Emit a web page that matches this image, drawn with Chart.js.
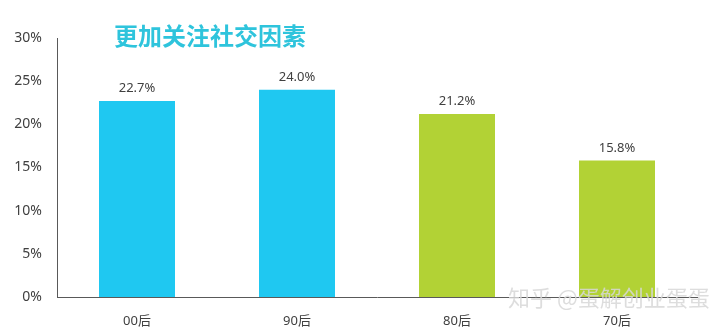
<!DOCTYPE html>
<html>
<head>
<meta charset="utf-8">
<script src="https://cdn.jsdelivr.net/npm/chart.js@4.4.0/dist/chart.umd.min.js"></script>
<style>
  html, body { margin: 0; padding: 0; background: #fff; }
  #wrap { width: 723px; height: 334px; }
</style>
</head>
<body>
<div id="wrap"><canvas id="chart_bar"></canvas></div>
<script>
var categories = ['00后', '90后', '80后', '70后'];
var values = [22.7, 24.0, 21.2, 15.8];
var barColors = ['#1fc8f1', '#1fc8f1', '#b2d235', '#b2d235'];
var yTicks = [0, 5, 10, 15, 20, 25, 30];
var titleText = '更加关注社交因素';
var watermark = '知乎 @蛋解创业蛋蛋';

var fontFamily = '"Noto Sans", "Noto Sans CJK SC", sans-serif';

/* value labels above bars, title and watermark */
var extras = {
	id: 'extras',
	afterDatasetsDraw: function (chart) {
		var ctx = chart.ctx;
		var meta = chart.getDatasetMeta(0);
		ctx.save();
		ctx.font = '13px ' + fontFamily;
		ctx.fillStyle = '#404040';
		ctx.textAlign = 'center';
		ctx.textBaseline = 'bottom';
		meta.data.forEach(function (bar, i) {
			ctx.fillText(values[i].toFixed(1) + '%', bar.x, bar.y - 6);
		});
		ctx.font = 'bold 24px "Noto Sans CJK SC", sans-serif';
		ctx.fillStyle = '#2ec4dc';
		ctx.textAlign = 'left';
		ctx.textBaseline = 'middle';
		ctx.fillText(titleText, 114, 36);
		ctx.font = '22px "Noto Sans CJK SC", sans-serif';
		ctx.fillStyle = 'rgba(215,215,215,0.85)';
		ctx.fillText(watermark, 508, 298);
		ctx.restore();
	}
};

var chart_bar = new Chart(document.getElementById('chart_bar'), {
	type: 'bar',
	data: {
		labels: categories,
		datasets: [{
			data: values,
			backgroundColor: barColors,
			categoryPercentage: 0.95,
			barPercentage: 0.5
		}]
	},
	options: {
		responsive: true,
		maintainAspectRatio: false,
		animation: false,
		layout: { padding: { top: 38, right: 26, left: 0, bottom: 0 } },
		plugins: {
			legend: { display: false },
			tooltip: { enabled: false }
		},
		scales: {
			x: {
				grid: { display: false },
				border: { display: true, color: '#595959', width: 1 },
				ticks: { color: '#404040', font: { size: 13, family: fontFamily }, padding: 8 },
				afterFit: function (scale) { scale.height = 37; }
			},
			y: {
				min: 0,
				max: 30,
				afterBuildTicks: function (scale) {
					scale.ticks = yTicks.map(function (v) { return { value: v }; });
				},
				grid: { display: false },
				border: { display: true, color: '#595959', width: 1 },
				ticks: {
					color: '#404040',
					font: { size: 14, family: fontFamily },
					padding: 7,
					callback: function (v) { return v + '%'; }
				},
				afterFit: function (scale) { scale.width = 57; }
			}
		}
	},
	plugins: [extras]
});
</script>
</body>
</html>
